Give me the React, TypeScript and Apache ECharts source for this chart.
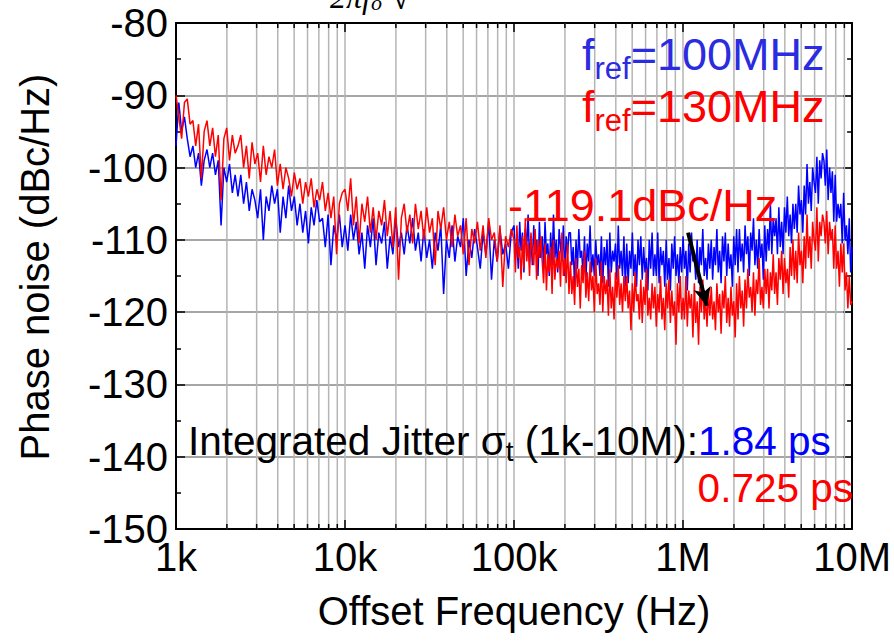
import React, { useEffect, useRef } from 'react';
import * as echarts from 'echarts';

const FONT = '"Liberation Sans", Arial, Helvetica, sans-serif';
const SERIF = '"Liberation Serif", "Times New Roman", serif';

const X_MIN = 1e3;
const X_MAX = 1e7;
const Y_MIN = -150;
const Y_MAX = -80;
const Y_STEP = 10;
const xTickLabels = ['1k', '10k', '100k', '1M', '10M'];
const minorGridFreqs = [
  2e3, 3e3, 4e3, 5e3, 6e3, 7e3, 8e3, 9e3,
  2e4, 3e4, 4e4, 5e4, 6e4, 7e4, 8e4, 9e4,
  2e5, 3e5, 4e5, 5e5, 6e5, 7e5, 8e5, 9e5,
  2e6, 3e6, 4e6, 5e6, 6e6, 7e6, 8e6, 9e6,
];

// f_ref = 100 MHz (blue), per-decade samples (dBc/Hz)
const blue1k = [
  -97, -91, -95, -93, -96, -98.5,
  -97, -100, -98, -102.5, -99,
  -97.5, -100, -98, -101, -99, -108,
  -100, -102, -99.5, -103.5, -101, -104,
  -101, -105, -102, -106, -103, -104.5, -107,
  -103, -110, -104, -106, -102.5,
  -105, -103, -109, -104, -107, -102.5, -106, -104, -108,
  -105, -109, -106, -110.5, -105.5, -108, -104.5, -107.5,
  -107, -111, -106.5, -113.5, -108, -110, -106.5, -111,
];
const blue10k = [
  -108, -111.5, -106.5, -110, -107.5, -112, -109,
  -114, -108, -111, -107, -113.5, -109, -110.5,
  -107.5, -114, -109.5, -112, -107, -111, -109,
  -112, -108, -110.5, -107, -111.5, -109, -113,
  -108.5, -112.5, -110, -114, -109, -111.5, -108,
  -117.5, -110, -112.5, -108, -113, -109.5, -111,
  -107, -115, -110, -112.5, -108.5, -111, -114,
  -109, -112, -107.5, -115.5, -110, -113, -108.5, -112, -110.5, -114, -109,
];
const blue100k = [
  -108, -112.5, -110, -114, -107.5, -111.5, -109, -114.5, -108.5, -111, -106.5, -113, -109.5, -113.5, -108, -112, -110, -115, -107.5, -112.5,
  -109.5, -114, -107.5, -112, -110.5, -115, -109, -113.5, -106.5, -112.5, -110, -114.5, -108.5, -111, -113, -108, -115, -109.5, -112, -109,
  -109, -113.5, -111, -116.5, -110, -114, -108.5, -112.5, -111.5, -115, -109.5, -115.5, -110.5, -113, -108, -114.5, -112, -115, -110, -113.5,
  -112, -115, -109.5, -116, -111, -113.5, -110, -116.5, -109, -114.5, -111.5, -113, -110.5, -115.5, -108, -114, -111.5, -115, -109.5, -116.5,
  -110.5, -116, -111.5, -114, -109, -115, -112, -116.5, -110, -113.5, -109.5, -115.5, -111, -114.5, -112.5, -117, -110, -114, -109, -115,
  -112, -115, -109, -116, -111, -113.5, -111.5, -116.5, -110, -115.5, -112.5, -117, -110.5, -114, -109.5, -115, -112, -116, -111, -114.5,
];
const blue1M = [
  -109.5, -114, -111.5, -117, -110.5, -114.5, -109, -113, -112, -115.5, -110, -116, -111, -113.5, -108.5, -115, -112.5, -115.5, -110.5, -114,
  -110, -115.5, -111, -113.5, -108.5, -114.5, -111.5, -116, -109.5, -113, -109, -115, -110.5, -114, -112, -116.5, -109.5, -113.5, -108.5, -114.5,
  -108.5, -113, -110.5, -114.5, -108, -112, -109.5, -115, -109, -111.5, -107, -113.5, -110, -114, -108.5, -112.5, -110.5, -115.5, -108, -113,
  -108.5, -111.5, -105, -112, -107, -109.5, -107, -112, -105.5, -111, -107.5, -112, -105.5, -109, -104, -109.5, -106.5, -110.5, -105, -108.5,
  -105, -109, -102.5, -106.5, -104.5, -109, -102.5, -106.5, -99.5, -105, -102, -106, -100, -102, -103.5, -98.5, -105, -99, -101.5, -98,
  -99, -102.5, -97.5, -104.5, -100, -103.5, -100.5, -107.5, -101, -107.5, -105, -107, -105, -110.5, -103.5, -110, -108, -112, -107, -114.5,
];
const blue10M = -111;

// f_ref = 130 MHz (red)
const red1k = [
  -90, -93, -96, -91, -90.5, -94,
  -93.5, -97, -94, -101.5, -95,
  -93.5, -97, -94.5, -98.5, -95.5, -104.5,
  -96, -94.5, -99, -95.5, -98, -97,
  -95.5, -100, -97, -101.5, -96.5, -99.5, -98,
  -102, -97, -101, -98.5, -100,
  -97.5, -102.5, -99.5, -103, -100, -101.5, -104, -100.7, -103,
  -101.5, -105, -102, -104, -101.5, -105.5, -103, -104.5,
  -102, -106, -103.5, -107, -104, -112, -105, -103.5,
];
const red10k = [
  -103, -106, -101.5, -108, -104, -110.5, -105,
  -107.5, -104, -109, -105.5, -110, -106, -108,
  -104.5, -109.5, -106, -111, -105.5, -115.5, -107,
  -105, -109, -106.5, -110.5, -105, -108.5, -106,
  -110, -105.5, -109, -107, -113.5, -106, -108.5,
  -105.5, -110, -107.5, -111, -106.5, -109.5, -108,
  -112, -107, -113.5, -108.5, -110.5, -107.5, -111.5,
  -108, -112.5, -107, -110, -109, -113, -108, -116.5, -109.5, -111, -108.5,
];
const red100k = [
  -110, -114.5, -108, -112.5, -111, -115.5, -109.5, -114, -107, -113, -110.5, -115, -109, -111.5, -113.5, -108.5, -115.5, -110, -112.5, -109.5,
  -113, -116, -110.5, -117, -112, -114.5, -111, -117.5, -110, -115.5, -112.5, -114, -111.5, -116.5, -109, -115, -112.5, -116, -110.5, -117.5,
  -113, -117.5, -115, -119, -112.5, -116.5, -114, -119.5, -113.5, -116, -111.5, -118, -114.5, -118.5, -113, -117, -115, -120, -112.5, -117.5,
  -116, -119, -113, -120, -115, -117.5, -115.5, -120.5, -114, -119.5, -116.5, -121, -114.5, -118, -113.5, -119, -116, -120, -115, -118.5,
  -115, -119.5, -117, -122.5, -116, -120, -114.5, -118.5, -117.5, -121, -115.5, -121.5, -116.5, -119, -114, -120.5, -118, -121, -116, -119.5,
  -116.5, -122, -117.5, -120, -115, -121, -118, -122.5, -116, -119.5, -115.5, -121.5, -117, -120.5, -118.5, -124.5, -116, -120, -115, -121,
];
const red1M = [
  -118, -121, -115, -122, -117, -119.5, -117.5, -123.5, -116, -121.5, -118.5, -124.5, -116.5, -120, -115.5, -121, -118, -122, -117, -120.5,
  -116.5, -121, -118.5, -122.5, -116, -120, -117.5, -123, -117, -119.5, -115, -121.5, -118, -122, -116.5, -120.5, -118.5, -123.5, -116, -121,
  -115, -119.5, -117, -122, -115.5, -119.5, -114, -118, -116.5, -120, -114.5, -120.5, -115.5, -117.5, -112.5, -119, -116.5, -119.5, -114, -117.5,
  -114, -119.5, -114.5, -117, -112, -117.5, -114.5, -119, -112.5, -115.5, -111.5, -117.5, -112.5, -116, -114, -118, -111, -115, -110, -115.5,
  -111.5, -116, -109, -113.5, -111.5, -116, -109.5, -114, -106.5, -112.5, -109.5, -114, -107.5, -110, -111.5, -105.5, -113, -107.5, -109.5, -106.5,
  -107.5, -110.5, -106, -112, -107.5, -110, -108.5, -114, -108, -114, -111.5, -116.5, -110.5, -114.5, -110.5, -117, -114.5, -119.5, -115, -119,
];
const red10M = -118.5;

// annotation arrow (data coordinates)
const arrowStart = [1.07e6, -109];
const arrowEnd = [1.38e6, -119.1];

const decade = (start: number, vals: number[]) =>
  vals.map((v, i) => [start * Math.pow(10, i / vals.length), v]);

const blueData = [
  ...decade(1e3, blue1k), ...decade(1e4, blue10k), ...decade(1e5, blue100k), ...decade(1e6, blue1M), [1e7, blue10M],
];
const redData = [
  ...decade(1e3, red1k), ...decade(1e4, red10k), ...decade(1e5, red100k), ...decade(1e6, red1M), [1e7, red10M],
];

const BLUE = '#0000ff';
const RED = '#ff0000';
const BLUE_TXT = '#2b2be0';

export default function App() {
  const ref = useRef<HTMLDivElement>(null);
  useEffect(() => {
    if (!ref.current) return;
    const chart = echarts.init(ref.current, null, { renderer: 'svg' });
    const axisLine = { show: true, lineStyle: { color: '#000', width: 2 } };
    const tick = { show: true, inside: true, length: 9, lineStyle: { color: '#000', width: 1.5 } };
    const minorTick = { show: true, splitNumber: 2, length: 5, lineStyle: { color: '#000', width: 1.5 } };
    const labelStyle = { fontSize: 40, color: '#000', fontFamily: FONT };
    const option: any = {
      animation: false,
      backgroundColor: '#fff',
      grid: { left: 176, top: 23, right: 39, bottom: 112, containLabel: false },
      xAxis: [
        {
          type: 'log', logBase: 10, min: X_MIN, max: X_MAX, position: 'bottom',
          axisLine, axisTick: tick,
          axisLabel: {
            ...labelStyle, margin: 8,
            formatter: (v: number) => xTickLabels[Math.round(Math.log10(v)) - 3] ?? '',
          },
          splitLine: { show: true, lineStyle: { color: '#b5b5b5', width: 1.5 } },
          name: 'Offset Frequency (Hz)', nameLocation: 'middle', nameGap: 62,
          nameTextStyle: { ...labelStyle },
        },
        {
          type: 'log', logBase: 10, min: X_MIN, max: X_MAX, position: 'top',
          axisLine, axisTick: tick, axisLabel: { show: false }, splitLine: { show: false },
        },
      ],
      yAxis: [
        {
          type: 'value', min: Y_MIN, max: Y_MAX, interval: Y_STEP, position: 'left',
          axisLine, axisTick: tick, minorTick,
          axisLabel: { ...labelStyle, margin: 8 },
          splitLine: { show: true, lineStyle: { color: '#888', width: 1.5 } },
          name: 'Phase noise (dBc/Hz)', nameLocation: 'middle', nameGap: 121, nameRotate: 90,
          nameTextStyle: { ...labelStyle, padding: [0, 0, 0, 18] },
        },
        {
          type: 'value', min: Y_MIN, max: Y_MAX, interval: Y_STEP, position: 'right',
          axisLine, axisTick: tick, minorTick, axisLabel: { show: false }, splitLine: { show: false },
        },
      ],
      series: [
        {
          type: 'custom', silent: true, z: 1, xAxisIndex: 0, yAxisIndex: 0,
          data: minorGridFreqs.map((f) => [f, Y_MIN]),
          encode: { x: 0, y: 1 },
          renderItem: (params: any, api: any) => {
            const cs = params.coordSys;
            const x = api.coord([api.value(0), Y_MIN])[0];
            const top = cs.y;
            const bottom = cs.y + cs.height;
            return {
              type: 'group',
              children: [
                { type: 'line', shape: { x1: x, y1: top, x2: x, y2: bottom }, style: { stroke: '#b5b5b5', lineWidth: 1.5 } },
                { type: 'line', shape: { x1: x, y1: bottom, x2: x, y2: bottom - 5 }, style: { stroke: '#000', lineWidth: 1.5 } },
                { type: 'line', shape: { x1: x, y1: top, x2: x, y2: top + 5 }, style: { stroke: '#000', lineWidth: 1.5 } },
              ],
            };
          },
        },
        {
          type: 'line', name: 'fref=100MHz', data: blueData, showSymbol: false, symbol: 'none',
          lineStyle: { color: BLUE, width: 1.5 }, itemStyle: { color: BLUE }, z: 2,
        },
        {
          type: 'line', name: 'fref=130MHz', data: redData, showSymbol: false, symbol: 'none',
          lineStyle: { color: RED, width: 1.5 }, itemStyle: { color: RED }, z: 3,
          markLine: {
            silent: true, symbol: ['none', 'arrow'], symbolSize: [13, 18],
            label: { show: false },
            lineStyle: { color: '#000', width: 4, type: 'solid' },
            itemStyle: { color: '#000' },
            data: [[{ coord: arrowStart }, { coord: arrowEnd }]],
          },
        },
      ],
      graphic: [
        {
          type: 'text', x: 330, y: -3, z: 10,
          style: {
            text: '{a|2πf}{b|o}{c| √}', verticalAlign: 'middle', align: 'left',
            rich: {
              a: { fontSize: 32, fontFamily: SERIF, fontStyle: 'italic', fill: '#000' },
              b: { fontSize: 22, fontFamily: SERIF, fontStyle: 'italic', fill: '#000', padding: [10, 0, 0, 0] },
              c: { fontSize: 36, fontFamily: SERIF, fill: '#000' },
            },
          },
        },
        {
          type: 'text', x: 582, y: 54, z: 10,
          style: {
            text: '{m|f}{s|ref}{m|=100MHz}', verticalAlign: 'middle', align: 'left',
            rich: {
              m: { fontSize: 45, fontFamily: FONT, fill: BLUE_TXT },
              s: { fontSize: 31, fontFamily: FONT, fill: BLUE_TXT, padding: [28, 0, 0, 0] },
            },
          },
        },
        {
          type: 'text', x: 582, y: 106, z: 10,
          style: {
            text: '{m|f}{s|ref}{m|=130MHz}', verticalAlign: 'middle', align: 'left',
            rich: {
              m: { fontSize: 45, fontFamily: FONT, fill: RED },
              s: { fontSize: 31, fontFamily: FONT, fill: RED, padding: [28, 0, 0, 0] },
            },
          },
        },
        {
          type: 'text', x: 508, y: 205, z: 10,
          style: { text: '-119.1dBc/Hz', fontSize: 45, fontFamily: FONT, fill: RED, verticalAlign: 'middle', align: 'left' },
        },
        {
          type: 'text', x: 188, y: 441, z: 10,
          style: {
            text: '{k|Integrated Jitter σ}{ks|t}{k| (1k-10M):}{b|1.84 ps}', verticalAlign: 'middle', align: 'left',
            rich: {
              k: { fontSize: 40.5, fontFamily: FONT, fill: '#000' },
              ks: { fontSize: 28, fontFamily: FONT, fill: '#000', padding: [20, 0, 0, 0] },
              b: { fontSize: 40.5, fontFamily: FONT, fill: BLUE },
            },
          },
        },
        {
          type: 'text', x: 853, y: 488, z: 10,
          style: { text: '0.725 ps', fontSize: 40.5, fontFamily: FONT, fill: RED, verticalAlign: 'middle', align: 'right' },
        },
      ],
    };
    chart.setOption(option);
    return () => chart.dispose();
  }, []);
  return (
    <div
      ref={ref}
      style={{ position: 'fixed', left: 0, top: 0, width: 894, height: 641, background: '#fff' }}
    />
  );
}
